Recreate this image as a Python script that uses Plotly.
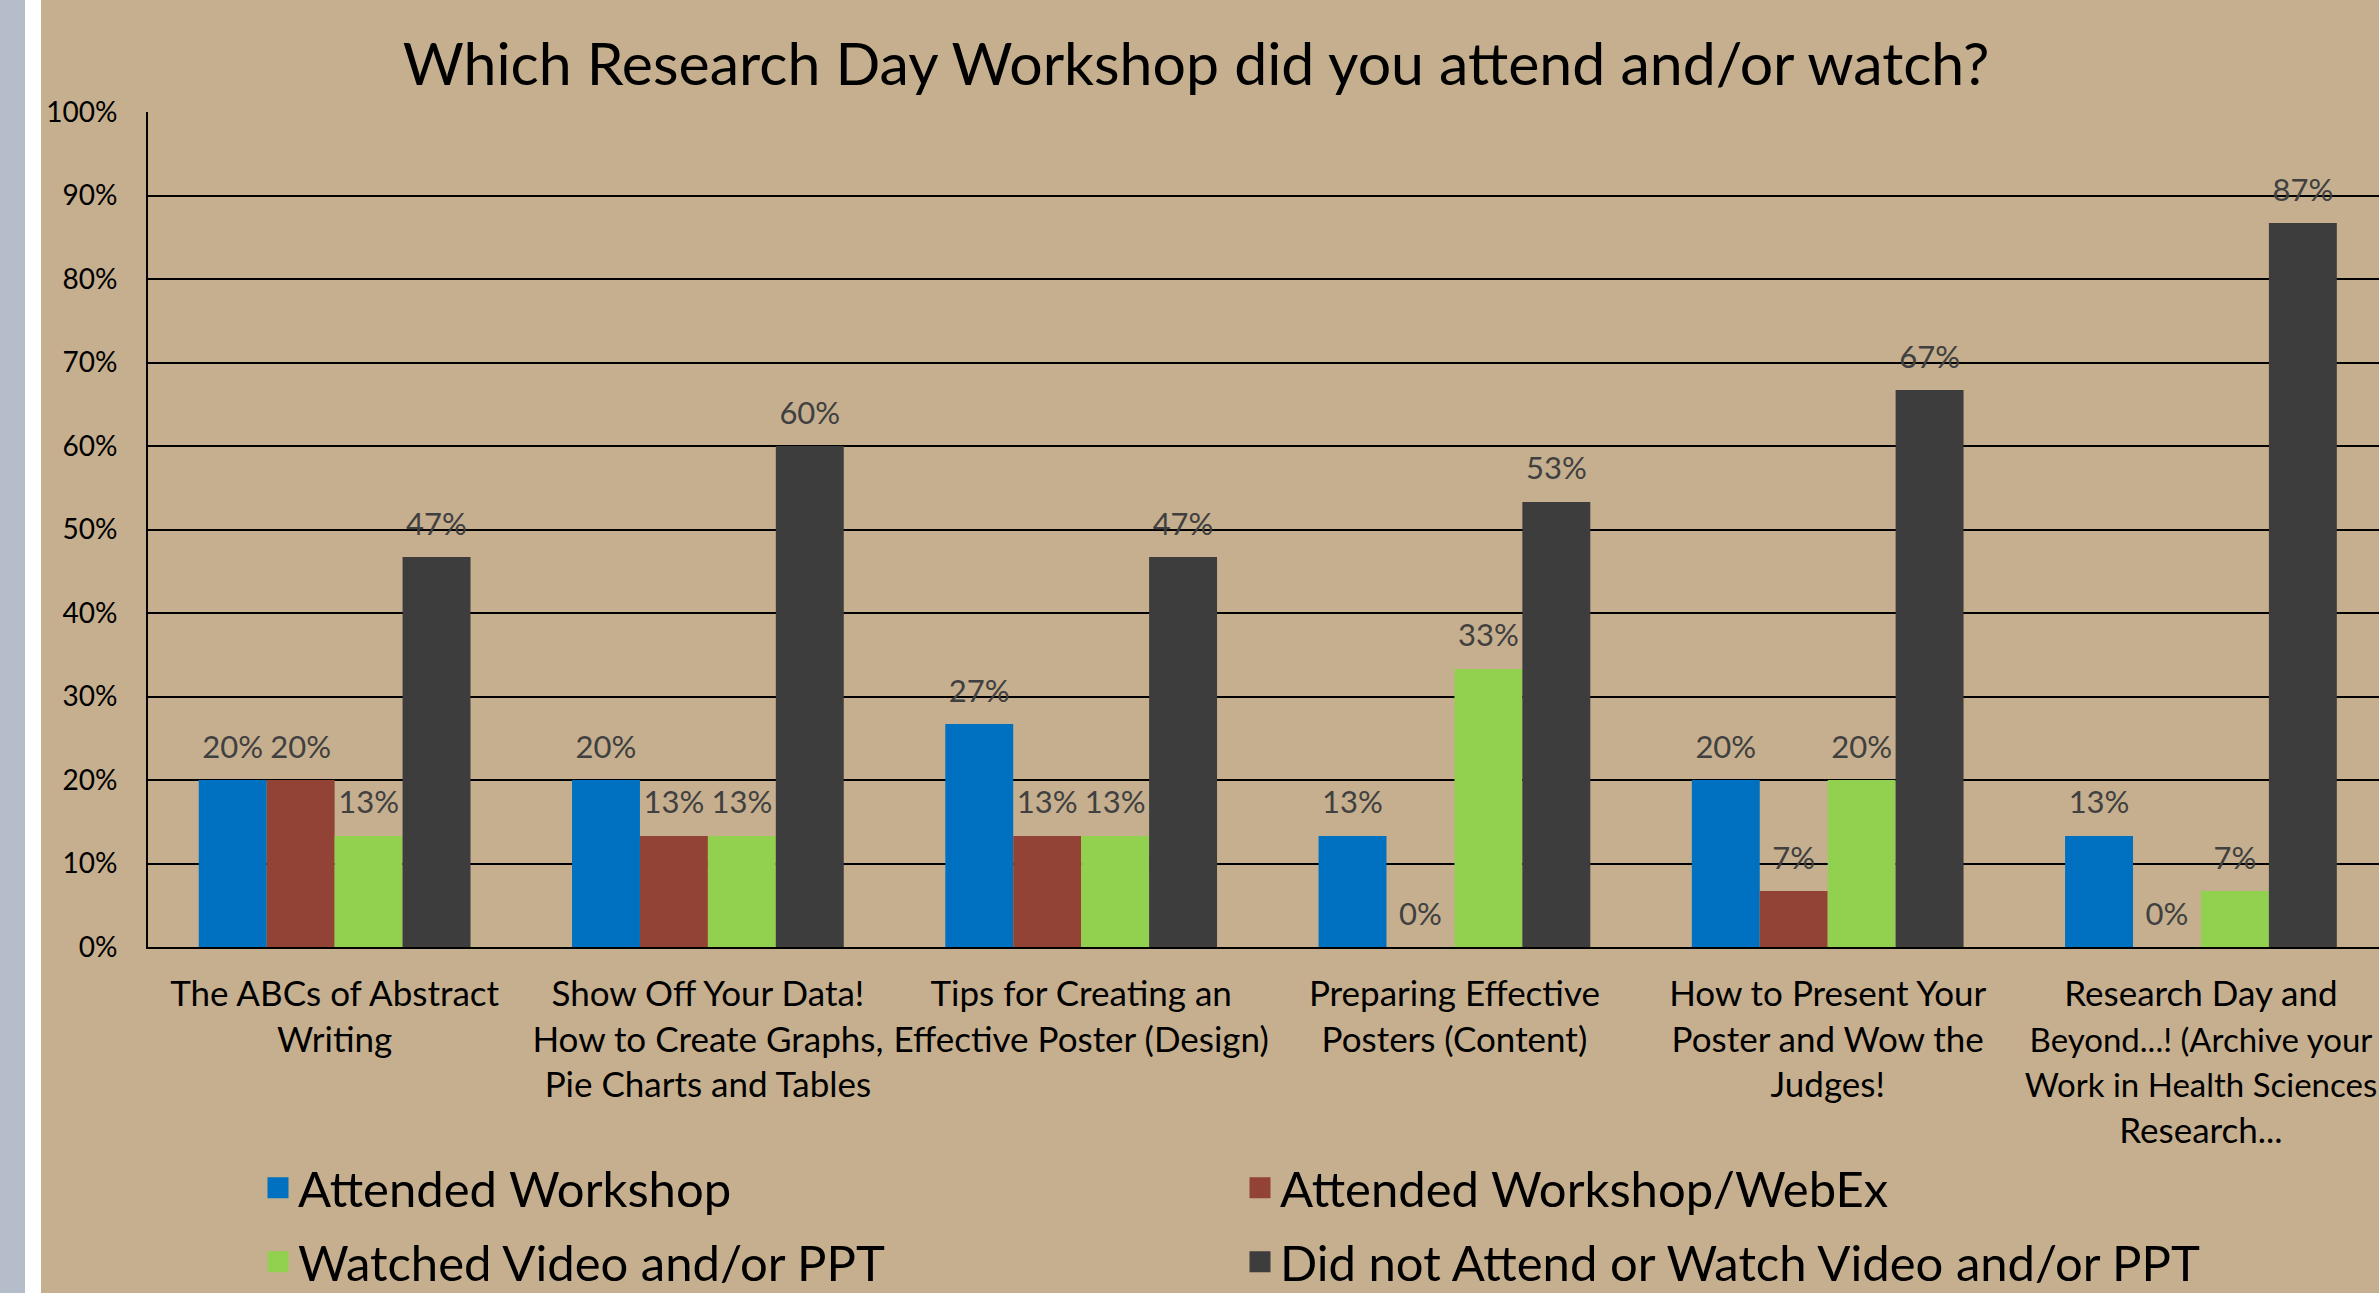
import plotly.graph_objects as go

W, H = 2379, 1293

categories = [
    "The ABCs of Abstract<br>Writing",
    "Show Off Your Data!<br>How to Create Graphs,<br>Pie Charts and Tables",
    "Tips for Creating an<br>Effective Poster (Design)",
    "Preparing Effective<br>Posters (Content)",
    "How to Present Your<br>Poster and Wow the<br>Judges!",
    "Research Day and<br><span style='font-size:33px'>Beyond...! (Archive your</span><br>"
    "<span style='font-size:33px'>Work in Health Sciences</span><br>Research...",
]
series_names = [
    "Attended Workshop",
    "Attended Workshop/WebEx",
    "Watched Video and/or PPT",
    "Did not Attend or Watch Video and/or PPT",
]
attended = [0.200, 0.200, 0.267, 0.133, 0.200, 0.133]
webex = [0.200, 0.133, 0.133, 0.000, 0.067, 0.000]
watched = [0.133, 0.133, 0.133, 0.333, 0.200, 0.067]
did_not = [0.467, 0.600, 0.467, 0.533, 0.667, 0.867]
series_values = [attended, webex, watched, did_not]
colors = ["#0070C0", "#934336", "#92D050", "#3D3D3D"]
legend_ids = ["legend", "legend", "legend2", "legend2"]

FONT = "Lato"
BARGAP = 0.272
fig = go.Figure()
for i, (name, vals, col) in enumerate(zip(series_names, series_values, colors)):
    grp = f"g{i}"
    fig.add_trace(go.Bar(
        x=categories, y=vals, name=name, offsetgroup=grp, legendgroup=grp,
        marker=dict(color=col, line=dict(width=0)), showlegend=False,
        hovertemplate="%{y:.0%}<extra>" + name + "</extra>",
    ))
    # data labels
    fig.add_trace(go.Scatter(
        x=categories, y=vals, mode="markers+text", offsetgroup=grp, legendgroup=grp,
        marker=dict(size=22, opacity=0, color=col),
        text=[f"{v:.0%}" for v in vals], textposition="top center",
        textfont=dict(family=FONT, size=31, color="#404040"),
        showlegend=False, hoverinfo="skip", cliponaxis=False,
    ))
    # legend entry
    fig.add_trace(go.Scatter(
        x=[None], y=[None], mode="markers", name=name, offsetgroup=grp,
        legendgroup=grp, legend=legend_ids[i],
        marker=dict(symbol="square", size=16, color=col, line=dict(width=5, color=col)),
        showlegend=True, hoverinfo="skip",
    ))

ml, mt, mb, mr = 148, 112, 346, 0
pw = W - ml - mr
ph = H - mt - mb

legend_common = dict(orientation="h", xanchor="left", yanchor="middle",
                     font=dict(family=FONT, size=49, color="#000000"),
                     entrywidth=937, bgcolor="rgba(0,0,0,0)", traceorder="normal",
                     itemsizing="trace")

fig.update_layout(
    width=W, height=H,
    margin=dict(l=ml, r=mr, t=mt, b=mb, pad=0, autoexpand=False),
    paper_bgcolor="#C6AF8E", plot_bgcolor="#C6AF8E",
    barmode="group", bargap=BARGAP, bargroupgap=0,
    scattermode="group", scattergap=BARGAP,
    title=dict(text="Which Research Day Workshop did you attend and/or watch?",
               font=dict(family=FONT, size=59, color="#000000"),
               x=1196 / W, xanchor="center", y=1 - 64 / H, yanchor="middle"),
    font=dict(family=FONT, color="#000000"),
    showlegend=True,
    legend=dict(x=(258 - ml) / pw, y=-(1188 - (mt + ph)) / ph, **legend_common),
    legend2=dict(x=(258 - ml) / pw, y=-(1262 - (mt + ph)) / ph, **legend_common),
    xaxis=dict(range=[-0.5, 5.477], showline=True, linecolor="#000000", linewidth=2,
               tickfont=dict(family=FONT, size=35, color="#000000"),
               ticks="", ticklabelstandoff=15, showgrid=False, zeroline=False,
               fixedrange=True, automargin=False),
    yaxis=dict(range=[0, 1], dtick=0.1, tickformat=".0%", showline=True,
               linecolor="#000000", linewidth=2, showgrid=True, gridcolor="#000000",
               gridwidth=2, zeroline=False, ticks="",
               tickfont=dict(family=FONT, size=28, color="#000000"),
               ticklabelstandoff=23, fixedrange=True, automargin=False),
    shapes=[
        dict(type="rect", xref="paper", yref="paper", layer="above",
             x0=-ml / pw, x1=(-ml + 25) / pw, y0=-mb / ph, y1=1 + mt / ph,
             fillcolor="#B4BDC9", line=dict(width=0)),
        dict(type="rect", xref="paper", yref="paper", layer="above",
             x0=(-ml + 25) / pw, x1=(-ml + 41) / pw, y0=-mb / ph, y1=1 + mt / ph,
             fillcolor="#FFFFFF", line=dict(width=0)),
    ],
)

fig.write_html(
    "out.html",
    config={"displayModeBar": False},
    post_script="document.body.style.margin='0';document.body.style.padding='0';"
                "document.body.style.overflow='hidden';",
)
